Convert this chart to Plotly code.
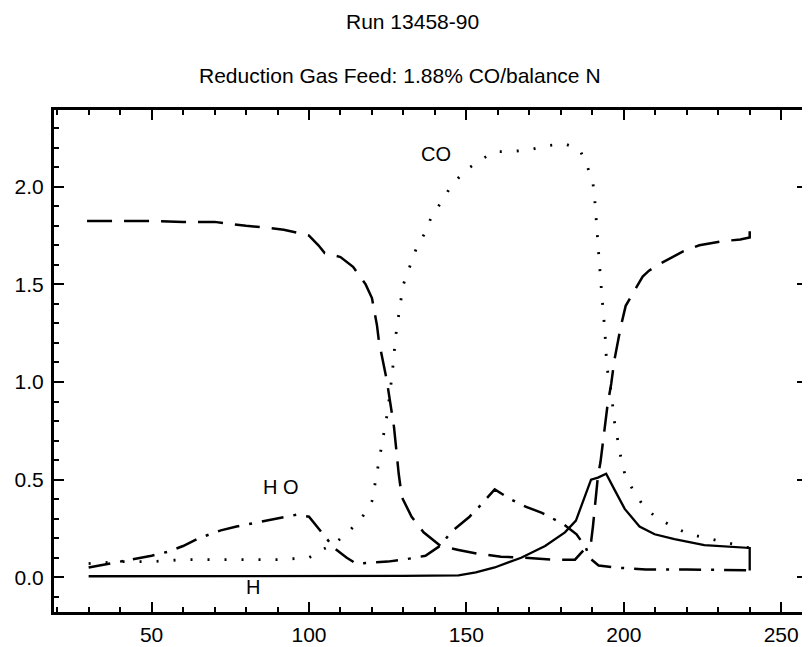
import plotly.graph_objects as go

# ---- data ----
co_x = [30, 40, 50, 60, 70, 80, 90, 100, 104, 108, 113, 117, 120, 121, 122, 123, 125, 126.5, 127.5,
        129, 130, 132, 134, 136.7, 139, 142, 145, 149.4, 153.8, 158.9, 164.2, 170.2, 175.6, 181.3,
        186, 188.3, 190.2, 190.8, 191.5, 192.1, 193, 194, 194.6, 196, 197, 198, 199, 200.3, 202.8,
        206, 210, 215.5, 220.8, 226.6, 232, 237.6, 240]
co_y = [0.07, 0.08, 0.08, 0.09, 0.09, 0.09, 0.09, 0.10, 0.14, 0.17, 0.24, 0.31, 0.39, 0.48, 0.57, 0.67, 0.85, 1.05, 1.23,
        1.40, 1.50, 1.59, 1.68, 1.76, 1.85, 1.92, 2.00, 2.08, 2.13, 2.18, 2.18, 2.19, 2.21, 2.22,
        2.19, 2.11, 2.02, 1.93, 1.74, 1.64, 1.45, 1.26, 1.08, 0.95, 0.80, 0.71, 0.62, 0.53, 0.45,
        0.37, 0.31, 0.26, 0.22, 0.20, 0.18, 0.16, 0.15]

n2_x = [29.5, 40, 50, 60, 70, 75, 80, 87, 92, 100, 103, 105, 110, 114, 118, 120, 121.6, 122.2, 123.7,
        124.7, 127, 128.5, 129.5, 132.6, 136.4, 141.8, 147.5, 153.8, 161, 168.7, 178, 184.5, 189.6,
        190.2, 191.8, 192.6, 194.9, 196, 197, 198, 199, 200.6, 203.5, 206, 208, 212, 219, 224, 231,
        237, 240, 240]
n2_y = [1.825, 1.825, 1.825, 1.82, 1.82, 1.81, 1.80, 1.79, 1.78, 1.75, 1.70, 1.66, 1.64, 1.59, 1.50, 1.43, 1.29, 1.21, 1.10,
        1.01, 0.77, 0.53, 0.41, 0.31, 0.23, 0.16, 0.14, 0.12, 0.105, 0.10, 0.09, 0.09, 0.18,
        0.26, 0.52, 0.59, 0.89, 0.99, 1.11, 1.20, 1.28, 1.39, 1.47, 1.54, 1.57, 1.61, 1.67, 1.70, 1.72,
        1.73, 1.74, 1.79]

h2o_x = [30, 40, 50, 55, 60, 65, 72, 77, 83, 90, 96, 100, 105, 108, 112, 115, 120, 125, 130, 137,
         142, 145, 151, 154, 159, 164, 169, 174, 181, 185, 188, 189, 192, 197, 207, 220, 240]
h2o_y = [0.05, 0.08, 0.11, 0.13, 0.16, 0.20, 0.24, 0.26, 0.28, 0.30, 0.32, 0.31, 0.21, 0.15, 0.10, 0.07, 0.075, 0.08, 0.09, 0.11,
         0.165, 0.23, 0.31, 0.36, 0.45, 0.40, 0.36, 0.33, 0.27, 0.22, 0.15, 0.10, 0.06, 0.05, 0.04, 0.04, 0.035]

h2_x = [30, 60, 100, 130, 147.5, 153, 159, 167.4, 175, 181.3, 184.8, 189.6, 191.8, 194.4, 197, 200.3,
        205, 209.8, 216.1, 225.6, 240, 240]
h2_y = [0.005, 0.005, 0.005, 0.007, 0.01, 0.025, 0.05, 0.10, 0.16, 0.23, 0.29, 0.50, 0.51, 0.53, 0.45, 0.35,
        0.26, 0.22, 0.195, 0.165, 0.15, 0.035]

x_tick_vals = [50, 100, 150, 200, 250]
y_tick_vals = [0.0, 0.5, 1.0, 1.5, 2.0]
y_tick_text = ["0.0", "0.5", "1.0", "1.5", "2.0"]

title_text = "Run 13458-90"
subtitle_text = "Reduction Gas Feed: 1.88% CO/balance N"
labels = [("CO", 140.2, 2.17), ("H O", 91.1, 0.46), ("H", 82.3, -0.05)]

FONT = "Liberation Sans, Arial, Helvetica, sans-serif"
FS = 21

fig = go.Figure()
fig.add_trace(go.Scatter(x=co_x, y=co_y, mode="lines",
                         line=dict(color="black", width=2.8, dash="2px,15px")))
fig.add_trace(go.Scatter(x=n2_x, y=n2_y, mode="lines",
                         line=dict(color="black", width=2.5, dash="25px,12px")))
fig.add_trace(go.Scatter(x=h2o_x, y=h2o_y, mode="lines",
                         line=dict(color="black", width=2.5, dash="22px,10px,3px,10px")))
fig.add_trace(go.Scatter(x=h2_x, y=h2_y, mode="lines",
                         line=dict(color="black", width=2.3)))

axis_common = dict(
    showgrid=False, zeroline=False, showline=True, linewidth=3, linecolor="black",
    mirror="ticks", ticks="inside", ticklen=10, tickwidth=2, tickcolor="black",
    tickfont=dict(family=FONT, size=FS, color="black"),
)

fig.update_xaxes(range=[19.0, 258.2], tickvals=x_tick_vals, ticklabelstandoff=2,
                 minor=dict(dtick=10, tick0=0, ticks="inside", ticklen=5, tickwidth=2, tickcolor="black"),
                 **axis_common)
fig.update_yaxes(range=[-0.178, 2.393], tickvals=y_tick_vals, ticktext=y_tick_text, ticklabelstandoff=3,
                 minor=dict(dtick=0.1, tick0=0, ticks="inside", ticklen=5, tickwidth=2, tickcolor="black"),
                 **axis_common)

for txt, lx, ly in labels:
    fig.add_annotation(x=lx, y=ly, text=txt, showarrow=False, xanchor="center", yanchor="middle",
                       font=dict(family=FONT, size=20, color="black"))

fig.add_annotation(xref="paper", yref="paper", x=0.476, y=1.177, text=title_text, showarrow=False,
                   xanchor="center", yanchor="middle",
                   font=dict(family=FONT, size=FS, color="black"))
fig.add_annotation(xref="paper", yref="paper", x=0.460, y=1.068, text=subtitle_text, showarrow=False,
                   xanchor="center", yanchor="middle",
                   font=dict(family=FONT, size=FS, color="black"))

# the page body adds an 8px offset, so the figure is sized to fit the 810x647 window
fig.update_layout(
    width=802, height=639, showlegend=False,
    margin=dict(l=46, r=0, t=102, b=35),
    paper_bgcolor="white", plot_bgcolor="white",
)

fig.write_html("out.html")
